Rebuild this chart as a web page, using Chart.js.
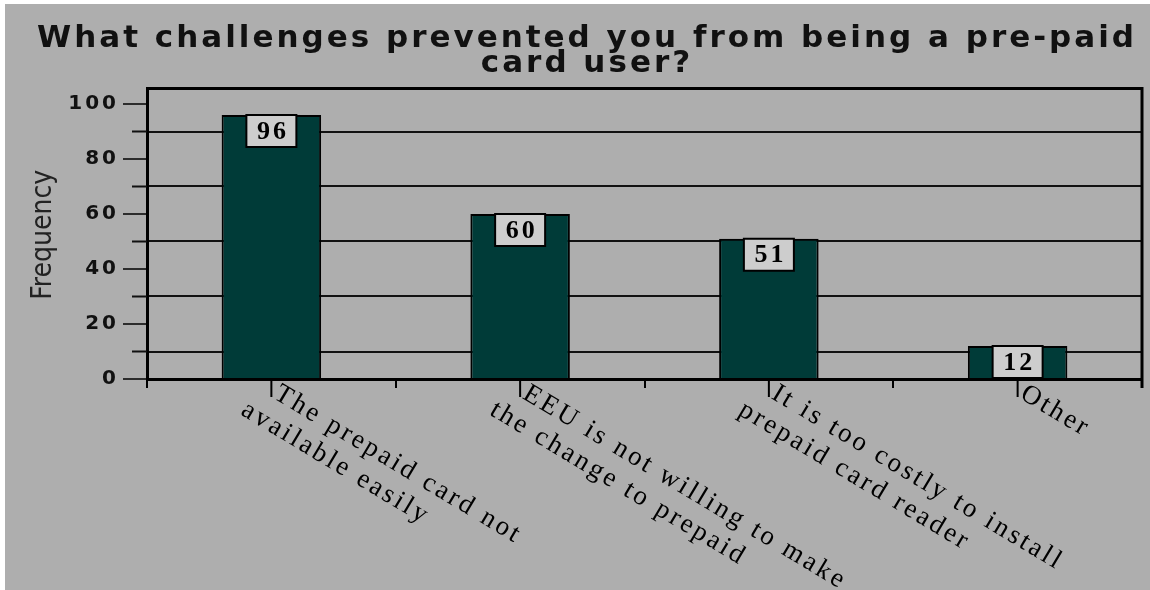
<!DOCTYPE html>
<html>
<head>
<meta charset="utf-8">
<script src="https://cdn.jsdelivr.net/npm/chart.js@4.4.1/dist/chart.umd.min.js"></script>
<style>
  html, body { margin: 0; padding: 0; background: #ffffff; }
  canvas { display: block; }
</style>
</head>
<body>
<canvas id="chart" width="1150" height="590"></canvas>
<script>
// Survey answers: why respondents are not pre-paid card users
const categories = [
  ["The prepaid card not", "available easily"],
  ["EEU is not willing to make", "the change to prepaid"],
  ["It is too costly to install", "prepaid card reader"],
  ["Other"]
];
const frequencies = [96, 60, 51, 12];
const yTickValues = [0, 20, 40, 60, 80, 100];
const yGridValues = [10, 30, 50, 70, 90];
const titleLines = ["What challenges prevented you from being a pre-paid", "card user?"];
const yAxisTitle = "Frequency";

const PANEL_GRAY = "#aeaeae";
const BAR_FILL = "#003b38";
const LABEL_BOX = "#cdcdcd";

const chartDecor = {
  id: "chartDecor",
  beforeDraw(chart) {
    const ctx = chart.ctx;
    ctx.save();
    ctx.fillStyle = "#ffffff";
    ctx.fillRect(0, 0, chart.width, chart.height);
    ctx.fillStyle = PANEL_GRAY;
    ctx.fillRect(5, 4, chart.width - 5, chart.height - 4);
    ctx.restore();
    // wide, spaced lettering for title and tick numbers
    ctx.letterSpacing = "3px";
  },
  afterDatasetsDraw(chart) {
    const ctx = chart.ctx;
    const meta = chart.getDatasetMeta(0);
    const yScale = chart.scales.y;
    ctx.save();
    ctx.letterSpacing = "3px";
    meta.data.forEach((bar, i) => {
      const value = chart.data.datasets[0].data[i];
      const top = yScale.getPixelForValue(value);
      const bottom = yScale.getPixelForValue(0);
      const h = Math.min(32, bottom - top);
      const w = 50;
      const x0 = bar.x - w / 2;
      ctx.fillStyle = LABEL_BOX;
      ctx.fillRect(x0, top, w, h);
      ctx.lineWidth = 2;
      ctx.strokeStyle = "#000";
      ctx.strokeRect(x0, top, w, h);
      ctx.fillStyle = "#000";
      ctx.font = 'bold 26px "Liberation Serif", serif';
      ctx.textAlign = "center";
      ctx.textBaseline = "middle";
      ctx.fillText(String(value), bar.x + 1.5, top + h / 2 + 1);
    });
    ctx.restore();
  },
  afterDraw(chart) {
    const ctx = chart.ctx;
    const area = chart.chartArea;
    const xScale = chart.scales.x;
    const yScale = chart.scales.y;
    ctx.save();
    ctx.strokeStyle = "#000";
    // frame: top edge and right edge (running past the axis)
    ctx.lineWidth = 3;
    ctx.beginPath();
    ctx.moveTo(area.left, area.top);
    ctx.lineTo(area.right, area.top);
    ctx.lineTo(area.right, area.bottom + 9);
    ctx.stroke();
    // short stubs of the grid lines outside the left axis
    ctx.lineWidth = 2;
    ctx.strokeStyle = "#111";
    yGridValues.forEach(v => {
      const y = yScale.getPixelForValue(v);
      ctx.beginPath();
      ctx.moveTo(area.left - 15, y);
      ctx.lineTo(area.left, y);
      ctx.stroke();
    });
    // long tick marks at category centres
    ctx.strokeStyle = "#000";
    ctx.lineWidth = 2;
    chart.data.labels.forEach((lab, i) => {
      const x = xScale.getPixelForValue(i);
      ctx.beginPath();
      ctx.moveTo(x, area.bottom);
      ctx.lineTo(x, area.bottom + 18);
      ctx.stroke();
    });
    // slanted category labels
    const angle = 31 * Math.PI / 180;
    ctx.fillStyle = "#000";
    ctx.font = '27px "Liberation Serif", serif';
    ctx.letterSpacing = "3px";
    ctx.textAlign = "left";
    ctx.textBaseline = "top";
    chart.data.labels.forEach((lab, i) => {
      const x = xScale.getPixelForValue(i);
      const lines = Array.isArray(lab) ? lab : [lab];
      ctx.save();
      ctx.translate(x + 12, area.bottom + 1);
      ctx.rotate(angle);
      lines.forEach((line, j) => {
        ctx.fillText(line, -20 * j, 31 * j);
      });
      ctx.restore();
    });
    // vertical axis title
    ctx.letterSpacing = "0px";
    ctx.save();
    ctx.translate(51, (area.top + area.bottom) / 2 + 1);
    ctx.rotate(-Math.PI / 2);
    ctx.font = '28px "Liberation Sans Narrow", "DejaVu Sans Condensed", sans-serif';
    ctx.fillStyle = "#222";
    ctx.textAlign = "center";
    ctx.textBaseline = "alphabetic";
    ctx.fillText(yAxisTitle, 0, 0);
    ctx.restore();
    ctx.restore();
  }
};

new Chart(document.getElementById("chart"), {
  type: "bar",
  data: {
    labels: categories,
    datasets: [{
      data: frequencies,
      backgroundColor: BAR_FILL,
      borderColor: "#000",
      borderWidth: 2,
      borderSkipped: "bottom",
      categoryPercentage: 1.0,
      barPercentage: 0.4
    }]
  },
  options: {
    responsive: false,
    animation: false,
    devicePixelRatio: 1,
    layout: { padding: { top: 0, right: 8, bottom: 0, left: 32 } },
    plugins: {
      legend: { display: false },
      tooltip: { enabled: false },
      title: {
        display: true,
        text: titleLines,
        color: "#111",
        font: { family: '"DejaVu Sans", sans-serif', size: 31, weight: "bold", lineHeight: 0.8 },
        padding: { top: 27, bottom: 12 }
      }
    },
    scales: {
      x: {
        type: "category",
        offset: true,
        grid: {
          offset: true,
          drawOnChartArea: false,
          drawTicks: true,
          tickLength: 9,
          color: "#000",
          lineWidth: 2
        },
        border: { display: true, color: "#000", width: 3 },
        ticks: { display: false },
        afterFit(scale) { scale.height = 211; }
      },
      y: {
        min: 0,
        max: 105.6,
        afterBuildTicks(scale) {
          scale.ticks = [...yTickValues, ...yGridValues]
            .sort((a, b) => a - b)
            .map(v => ({ value: v }));
        },
        grid: {
          drawOnChartArea: true,
          drawTicks: true,
          tickLength: 24,
          lineWidth: 2,
          tickWidth: 1.5,
          color: c => (c.tick && yGridValues.includes(c.tick.value)) ? "#111" : "rgba(0,0,0,0)",
          tickColor: c => (c.tick && yTickValues.includes(c.tick.value)) ? "#000" : "rgba(0,0,0,0)"
        },
        border: { display: true, color: "#000", width: 3 },
        ticks: {
          autoSkip: false,
          padding: 4,
          color: "#111",
          font: { family: '"DejaVu Sans", sans-serif', size: 20, weight: "bold" },
          callback: v => yTickValues.includes(v) ? String(v) : ""
        },
        afterFit(scale) { scale.width = 115; }
      }
    }
  },
  plugins: [chartDecor]
});
</script>
</body>
</html>
